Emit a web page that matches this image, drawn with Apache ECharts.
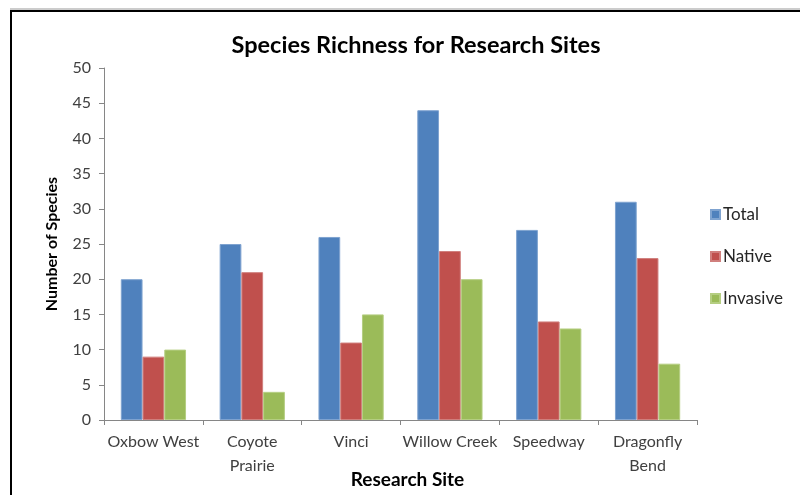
<!DOCTYPE html>
<html>
<head>
<meta charset="utf-8">
<script src="https://cdn.jsdelivr.net/npm/echarts@6/dist/echarts.min.js"></script>
<style>
  html, body { margin: 0; padding: 0; background: #fff; }
  #chart-container { width: 800px; height: 495px; }
</style>
</head>
<body>
<div id="chart-container"></div>
<script>
var dom = document.getElementById("chart-container");
var myChart = echarts.init(dom, null, { renderer: "canvas" });

// data
var sites = ["Oxbow West", "Coyote\nPrairie", "Vinci", "Willow Creek", "Speedway", "Dragonfly\nBend"];
var totalCounts = [20, 25, 26, 44, 27, 31];
var nativeCounts = [9, 21, 11, 24, 14, 23];
var invasiveCounts = [10, 4, 15, 20, 13, 8];

var font = "Lato, 'Open Sans', sans-serif";

function barSeries(name, values, color, edge) {
  return {
    name: name,
    type: "bar",
    data: values,
    barGap: "0%",
    barCategoryGap: "34%",
    itemStyle: { color: color, borderColor: edge, borderWidth: 1 }
  };
}

var option = {
  animation: false,
  textStyle: { fontFamily: font },
  title: {
    text: "Species Richness for Research Sites",
    left: 411,
    textAlign: "center",
    top: 28,
    textStyle: { fontFamily: font, fontSize: 23.5, fontWeight: "bold", color: "#000" }
  },
  legend: {
    orient: "vertical",
    left: 705,
    top: 201,
    itemWidth: 9,
    itemHeight: 9,
    itemGap: 25,
    icon: "rect",
    textStyle: { fontFamily: font, fontSize: 17, color: "#262626", padding: [0, 0, 0, -2] },
    data: ["Total", "Native", "Invasive"]
  },
  grid: { left: 104, right: 103, top: 68, bottom: 75, containLabel: false, outerBoundsMode: "none" },
  xAxis: {
    type: "category",
    data: sites,
    name: "Research Site",
    nameLocation: "middle",
    nameGap: 50,
    nameMoveOverlap: false,
    nameTextStyle: { fontFamily: font, fontSize: 19, fontWeight: "bold", color: "#000", padding: [0, 0, 0, 14] },
    axisLine: { lineStyle: { color: "#868686", width: 1 } },
    axisTick: { show: true, length: 5, lineStyle: { color: "#868686" } },
    axisLabel: { interval: 0, fontSize: 16, color: "#404040", margin: 10, lineHeight: 24, fontFamily: font },
    splitLine: { show: false }
  },
  yAxis: {
    type: "value",
    min: 0,
    max: 50,
    interval: 5,
    name: "Number of Species",
    nameLocation: "middle",
    nameGap: 44,
    nameMoveOverlap: false,
    nameTextStyle: { fontFamily: font, fontSize: 16, fontWeight: "bold", color: "#000" },
    axisLine: { show: true, lineStyle: { color: "#868686", width: 1 } },
    axisTick: { show: true, length: 5, lineStyle: { color: "#868686" } },
    axisLabel: { fontSize: 16, color: "#404040", margin: 13, fontFamily: font },
    splitLine: { show: false }
  },
  series: [
    barSeries("Total", totalCounts, "#4F81BD", "#7FA3D0"),
    barSeries("Native", nativeCounts, "#C0504D", "#D07F7D"),
    barSeries("Invasive", invasiveCounts, "#9BBB59", "#B5CE82")
  ],
  graphic: [
    {
      type: "polyline",
      silent: true,
      shape: { points: [[11, 495], [11, 11], [800, 11]] },
      style: { stroke: "#000", lineWidth: 2, fill: null }
    },
    {
      type: "line",
      silent: true,
      shape: { x1: 10, y1: 9, x2: 800, y2: 9 },
      style: { stroke: "#999", lineWidth: 1 }
    }
  ]
};

myChart.setOption(option);
window.addEventListener("resize", myChart.resize);
</script>
</body>
</html>
